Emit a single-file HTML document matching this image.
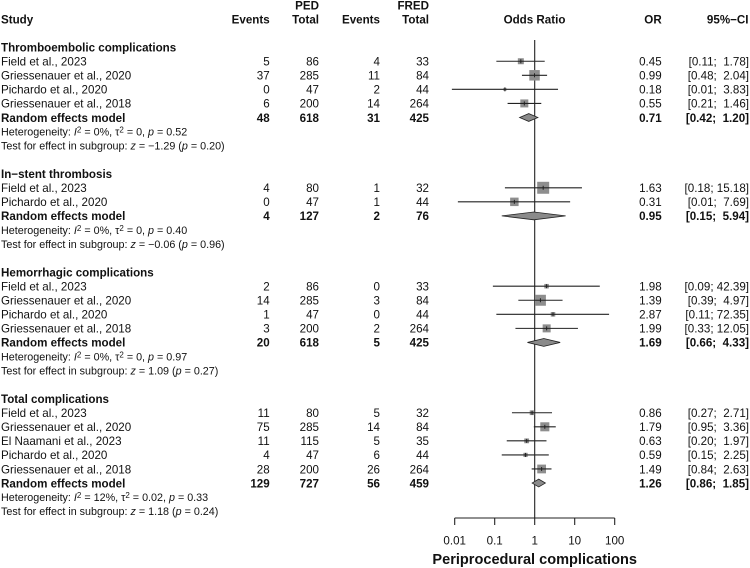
<!DOCTYPE html>
<html lang="en">
<head>
<meta charset="utf-8">
<title>Periprocedural complications forest plot</title>
<style>
html,body{margin:0;padding:0;background:#fff;width:750px;height:568px;overflow:hidden}
svg{display:block}
text{font-family:"Liberation Sans",Arial,sans-serif;fill:#111;white-space:pre;dominant-baseline:central}
.m{font-size:11.6px}
.s{font-size:10.75px}
.b{font-weight:bold}
.e{text-anchor:end}
</style>
</head>
<body>
<svg id="chart" xmlns="http://www.w3.org/2000/svg" width="750" height="568" viewBox="0 0 750 568"></svg>
<script>
var groupNames = ['Thromboembolic complications', 'In\u2212stent thrombosis', 'Hemorrhagic complications', 'Total complications'];
var groupSizes = [4, 2, 4, 5];

var studyNames = ['Field et al., 2023', 'Griessenauer et al., 2020', 'Pichardo et al., 2020', 'Griessenauer et al., 2018',
  'Field et al., 2023', 'Pichardo et al., 2020',
  'Field et al., 2023', 'Griessenauer et al., 2020', 'Pichardo et al., 2020', 'Griessenauer et al., 2018',
  'Field et al., 2023', 'Griessenauer et al., 2020', 'El Naamani et al., 2023', 'Pichardo et al., 2020', 'Griessenauer et al., 2018'];
var pedEvents = [5, 37, 0, 6, 4, 0, 2, 14, 1, 3, 11, 75, 11, 4, 28];
var pedTotals = [86, 285, 47, 200, 80, 47, 86, 285, 47, 200, 80, 285, 115, 47, 200];
var fredEvents = [4, 11, 2, 14, 1, 1, 0, 3, 0, 2, 5, 14, 5, 6, 26];
var fredTotals = [33, 84, 44, 264, 32, 44, 33, 84, 44, 264, 32, 84, 35, 44, 264];
var orValues = [0.45, 0.99, 0.18, 0.55, 1.63, 0.31, 1.98, 1.39, 2.87, 1.99, 0.86, 1.79, 0.63, 0.59, 1.49];
var ciLower = [0.11, 0.48, 0.0085, 0.21, 0.18, 0.012, 0.09, 0.39, 0.11, 0.33, 0.27, 0.95, 0.20, 0.15, 0.84];
var ciUpper = [1.78, 2.04, 3.83, 1.46, 15.18, 7.69, 42.39, 4.97, 72.35, 12.05, 2.71, 3.36, 1.97, 2.25, 2.63];
var studyWeights = [14, 43, 3.5, 25, 56, 28, 8, 47, 8, 25, 8.6, 32, 9, 7, 30];

var pooledPedEvents = [48, 4, 20, 129];
var pooledPedTotals = [618, 127, 618, 727];
var pooledFredEvents = [31, 2, 5, 56];
var pooledFredTotals = [425, 76, 425, 459];
var pooledOr = [0.71, 0.95, 1.69, 1.26];
var pooledLower = [0.42, 0.15, 0.66, 0.86];
var pooledUpper = [1.20, 5.94, 4.33, 1.85];

var hetI2 = ['0%', '0%', '0%', '12%'];
var hetTau2 = ['0', '0', '0', '0.02'];
var hetP = ['0.52', '0.40', '0.97', '0.33'];
var testZ = ['\u22121.29', '\u22120.06', '1.09', '1.18'];
var testP = ['0.20', '0.96', '0.27', '0.24'];

var axisTicks = [0.01, 0.1, 1, 10, 100];
var axisTickLabels = ['0.01', '0.1', '1', '10', '100'];

var NS = 'http://www.w3.org/2000/svg';
var svg = document.getElementById('chart');

function xScale(v) { return 534.7 + 40 * Math.log10(v); }
function yRow(r) { return 5 + 14.06 * r; }

function txt(x, y, str, cls, name) {
  var t = document.createElementNS(NS, 'text');
  t.setAttribute('x', x);
  t.setAttribute('y', y + 0.8);
  t.setAttribute('class', cls);
  t.textContent = str;
  
  
  svg.appendChild(t);
  return t;
}
function span(parent, str, style) {
  var s = document.createElementNS(NS, 'tspan');
  if (style === 'i') s.setAttribute('font-style', 'italic');
  if (style === 'sup') { s.setAttribute('font-size', '8px'); s.setAttribute('dy', '-3'); }
  if (style === 'base') s.setAttribute('dy', '3');
  s.textContent = str;
  parent.appendChild(s);
}
function line(x1, y1, x2, y2, w, color, name) {
  var l = document.createElementNS(NS, 'line');
  l.setAttribute('x1', x1); l.setAttribute('y1', y1);
  l.setAttribute('x2', x2); l.setAttribute('y2', y2);
  l.setAttribute('stroke', color); l.setAttribute('stroke-width', w);
  
  
  svg.appendChild(l);
}
function fmtCi(lo, hi) {
  var h = hi.toFixed(2);
  var pad = hi < 10 ? '  ' : ' ';
  return '[' + lo.toFixed(2) + ';' + pad + h + ']';
}

/* header */
txt(1, yRow(1), 'Study', 'm b', 'study-header');
txt(269.7, yRow(1), 'Events', 'm b e', 'ped-events-header');
txt(319, yRow(0), 'PED', 'm b e', 'ped-header');
txt(319, yRow(1), 'Total', 'm b e', 'ped-total-header');
txt(380, yRow(1), 'Events', 'm b e', 'fred-events-header');
txt(429, yRow(0), 'FRED', 'm b e', 'fred-header');
txt(429, yRow(1), 'Total', 'm b e', 'fred-total-header');
var orHead = txt(534.5, yRow(1), 'Odds Ratio', 'm b', 'odds-ratio-header');
orHead.setAttribute('text-anchor', 'middle');
txt(661.7, yRow(1), 'OR', 'm b e', 'or-header');
txt(748.5, yRow(1), '95%\u2212CI', 'm b e', 'ci-header');

/* reference line */
line(xScale(1), 40, xScale(1), 518, 1.1, '#222', 'reference-line');

/* rows */
var row = 3, idx = 0;
for (var g = 0; g < groupNames.length; g++) {
  txt(1, yRow(row), groupNames[g], 'm b', 'subgroup-title');
  row++;
  for (var k = 0; k < groupSizes[g]; k++, idx++, row++) {
    var y = yRow(row);
    txt(1, y, studyNames[idx], 'm', 'study-name');
    txt(269.7, y, String(pedEvents[idx]), 'm e', 'ped-events');
    txt(319, y, String(pedTotals[idx]), 'm e', 'ped-total');
    txt(380, y, String(fredEvents[idx]), 'm e', 'fred-events');
    txt(429, y, String(fredTotals[idx]), 'm e', 'fred-total');
    txt(661.7, y, orValues[idx].toFixed(2), 'm e', 'or-value');
    txt(749, y, fmtCi(ciLower[idx], ciUpper[idx]), 'm e', 'ci-value');

    var side = Math.sqrt(studyWeights[idx]) * 1.6;
    var cx = xScale(orValues[idx]);
    var sq = document.createElementNS(NS, 'rect');
    sq.setAttribute('x', cx - side / 2);
    sq.setAttribute('y', y - side / 2);
    sq.setAttribute('width', side);
    sq.setAttribute('height', side);
    sq.setAttribute('fill', '#8e8e8e');
    
    
    svg.appendChild(sq);
    line(xScale(ciLower[idx]), y, xScale(ciUpper[idx]), y, 1.1, '#222', 'study-ci-line');
    line(cx, y - 2, cx, y + 2, 1, '#222', 'study-point-tick');
  }
  var yp = yRow(row);
  txt(1, yp, 'Random effects model', 'm b', 'random-effects-label');
  txt(269.7, yp, String(pooledPedEvents[g]), 'm b e', 'pooled-ped-events');
  txt(319, yp, String(pooledPedTotals[g]), 'm b e', 'pooled-ped-total');
  txt(380, yp, String(pooledFredEvents[g]), 'm b e', 'pooled-fred-events');
  txt(429, yp, String(pooledFredTotals[g]), 'm b e', 'pooled-fred-total');
  txt(661.7, yp, pooledOr[g].toFixed(2), 'm b e', 'pooled-or');
  txt(749, yp, fmtCi(pooledLower[g], pooledUpper[g]), 'm b e', 'pooled-ci');
  var d = document.createElementNS(NS, 'polygon');
  d.setAttribute('points',
    xScale(pooledLower[g]) + ',' + yp + ' ' +
    xScale(pooledOr[g]) + ',' + (yp - 3.9) + ' ' +
    xScale(pooledUpper[g]) + ',' + yp + ' ' +
    xScale(pooledOr[g]) + ',' + (yp + 3.9));
  d.setAttribute('fill', '#8a8a8a');
  d.setAttribute('stroke', '#222');
  d.setAttribute('stroke-width', '0.8');
  
  
  svg.appendChild(d);
  row++;

  var h = txt(1, yRow(row), '', 's', 'heterogeneity-stats');
  span(h, 'Heterogeneity: ');
  span(h, 'I', 'i');
  span(h, '2', 'sup');
  span(h, ' = ' + hetI2[g] + ', \u03C4', 'base');
  span(h, '2', 'sup');
  span(h, ' = ' + hetTau2[g] + ', ', 'base');
  span(h, 'p', 'i');
  span(h, ' = ' + hetP[g]);
  row++;

  var t = txt(1, yRow(row), '', 's', 'subgroup-effect-test');
  span(t, 'Test for effect in subgroup: ');
  span(t, 'z', 'i');
  span(t, ' = ' + testZ[g] + ' (');
  span(t, 'p', 'i');
  span(t, ' = ' + testP[g] + ')');
  row += 2;
}

/* axis */
line(xScale(axisTicks[0]), 518, xScale(axisTicks[axisTicks.length - 1]), 518, 1.1, '#222', 'x-axis-line');
for (var a = 0; a < axisTicks.length; a++) {
  var ax = xScale(axisTicks[a]);
  line(ax, 518, ax, 525, 1.1, '#222', 'x-axis-tick');
  var lab = txt(ax, 540, axisTickLabels[a], 'm', 'x-axis-tick-label');
  lab.setAttribute('text-anchor', 'middle');
}
var title = txt(534.7, 559, 'Periprocedural complications', 'b', 'x-axis-title');
title.setAttribute('text-anchor', 'middle');
title.setAttribute('font-size', '14.55px');
</script>
</body>
</html>
